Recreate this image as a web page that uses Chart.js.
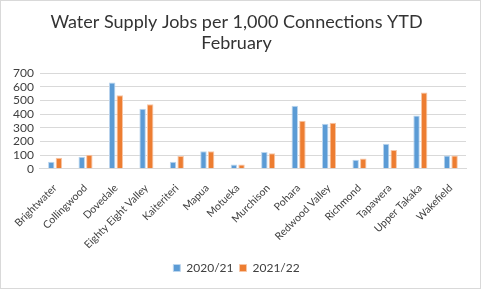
<!DOCTYPE html>
<html><head><meta charset="utf-8">
<script src="https://cdn.jsdelivr.net/npm/chart.js@4/dist/chart.umd.min.js"></script>
<style>
html,body{margin:0;padding:0;background:#fff;}
#wrap{position:relative;width:481px;height:289px;box-sizing:border-box;border:1px solid #d9d9d9;}
</style></head><body>
<div id="wrap"><canvas id="c"></canvas></div>
<script>
const categories = ["Brightwater","Collingwood","Dovedale","Eighty Eight Valley","Kaiteriteri","Mapua","Motueka","Murchison","Pohara","Redwood Valley","Richmond","Tapawera","Upper Takaka","Wakefield"];
const series2021 = [52, 88, 632, 440, 52, 128, 32, 123, 462, 329, 66, 184, 390, 98];
const series2122 = [81, 103, 538, 472, 94, 128, 32, 113, 351, 337, 76, 138, 558, 98];
const seriesNames = ["2020/21", "2021/22"];
const titleLines = ["Water Supply Jobs per 1,000 Connections YTD", "February"];

new Chart(document.getElementById('c'), {
  type: 'bar',
  data: {
    labels: categories,
    datasets: [
      {label: seriesNames[0], data: series2021, backgroundColor: '#5B9BD5', borderColor: '#bcd6ee', borderWidth: 1, categoryPercentage: 0.5, barPercentage: 0.85},
      {label: seriesNames[1], data: series2122, backgroundColor: '#ED7D31', borderColor: '#f7c6a6', borderWidth: 1, categoryPercentage: 0.5, barPercentage: 0.85}
    ]
  },
  options: {
    responsive: true, maintainAspectRatio: false, animation: false,
    devicePixelRatio: 1,
    layout: {padding: {left: 6, right: 14, top: 6, bottom: 4}},
    plugins: {
      title: {display: true, text: titleLines, color: '#333', font: {family: 'Lato', size: 18, weight: 'normal'}, padding: {top: 4, bottom: 19}, lineHeight: 1.25},
      legend: {position: 'bottom', labels: {boxWidth: 7, boxHeight: 7, color: '#404040', font: {family: 'Lato', size: 12}, padding: 6}},
      tooltip: {enabled: false}
    },
    scales: {
      x: {
        grid: {display: false},
        border: {color: '#d9d9d9'},
        ticks: {color: '#404040', font: {family: 'Lato', size: 10.5}, minRotation: 45, maxRotation: 45, autoSkip: false, padding: 5}
      },
      y: {
        min: 0, max: 700,
        grid: {color: '#d9d9d9', drawTicks: false},
        border: {display: false},
        ticks: {stepSize: 100, autoSkip: false, color: '#404040', font: {family: 'Lato', size: 12}, padding: 6}
      }
    }
  }
});
</script>
</body></html>
